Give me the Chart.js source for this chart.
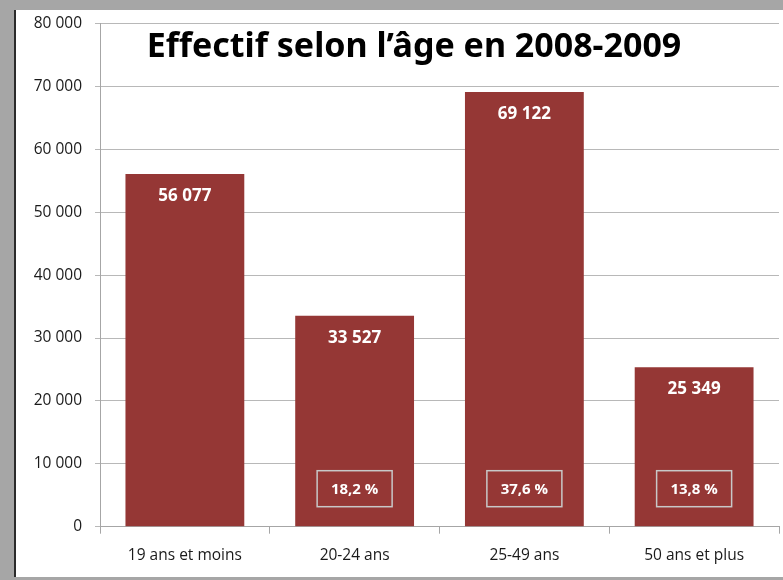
<!DOCTYPE html>
<html>
<head>
<meta charset="utf-8">
<script src="https://cdn.jsdelivr.net/npm/chart.js@4"></script>
<style>
  html, body { margin: 0; padding: 0; }
  body { width: 783px; height: 580px; background: #a6a6a6; position: relative; overflow: hidden; }
  #frame { position: absolute; left: 14px; top: 10px; width: 767px; height: 567px; background: #ffffff; border-left: 2px solid #2b2b2b; }
  #c { position: absolute; left: 0; top: 0; }
</style>
</head>
<body>
<div id="frame"></div>
<canvas id="c" width="783" height="580"></canvas>
<script>
const categories = ["19 ans et moins", "20-24 ans", "25-49 ans", "50 ans et plus"];
const effectifs = [56077, 33527, 69122, 25349];
const percentLabels = ["", "18,2 %", "37,6 %", "13,8 %"];
const yTicks = [0, 10000, 20000, 30000, 40000, 50000, 60000, 70000, 80000];
const chartTitle = "Effectif selon l\u2019âge en 2008-2009";

function fmt(v) {
  return String(v).replace(/\B(?=(\d{3})+(?!\d))/g, " ");
}

const labelPlugin = {
  id: "labels",
  afterDatasetsDraw(chart) {
    const ctx = chart.ctx;
    const meta = chart.getDatasetMeta(0);
    const yScale = chart.scales.y;
    const zeroY = yScale.getPixelForValue(0);
    ctx.save();
    ctx.textAlign = "center";
    ctx.textBaseline = "middle";
    meta.data.forEach((el, i) => {
      ctx.fillStyle = "#ffffff";
      ctx.font = "bold 17px 'Open Sans'";
      ctx.fillText(fmt(effectifs[i]), el.x, el.y + 22);
      if (percentLabels[i]) {
        const w = 75, h = 36;
        const cy = zeroY - 38;
        ctx.strokeStyle = "#c8c8c8";
        ctx.lineWidth = 1.5;
        ctx.strokeRect(el.x - w / 2, cy - h / 2, w, h);
        ctx.font = "bold 15px 'Open Sans'";
        ctx.fillStyle = "#ffffff";
        ctx.fillText(percentLabels[i], el.x, cy + 1);
      }
    });
    ctx.restore();
  },
  afterDraw(chart) {
    const ctx = chart.ctx;
    ctx.save();
    ctx.fillStyle = "#000000";
    ctx.font = "bold 34px 'Noto Sans'";
    ctx.textAlign = "center";
    ctx.textBaseline = "alphabetic";
    ctx.fillText(chartTitle, 414, 57);
    ctx.restore();
  }
};

new Chart(document.getElementById("c"), {
  type: "bar",
  data: {
    labels: categories,
    datasets: [{
      data: effectifs,
      backgroundColor: "#953735",
      borderWidth: 0,
      barPercentage: 0.7,
      categoryPercentage: 1.0
    }]
  },
  options: {
    responsive: false,
    animation: false,
    devicePixelRatio: 1,
    layout: { padding: { left: 16, right: 4, top: 23.5, bottom: 0 } },
    plugins: { legend: { display: false }, tooltip: { enabled: false }, title: { display: false } },
    scales: {
      x: {
        grid: { display: true, drawOnChartArea: false, color: "#a6a6a6", tickLength: 7, offset: true },
        border: { color: "#a6a6a6", width: 1 },
        ticks: { color: "#1a1a1a", font: { family: "'Open Sans'", size: 15.5 }, padding: 13, maxRotation: 0 },
        afterFit(scale) { scale.height = 53.3; }
      },
      y: {
        min: 0, max: 80000,
        afterBuildTicks(scale) { scale.ticks = yTicks.map(v => ({ value: v })); },
        grid: { color: "#b8b8b8", tickLength: 5 },
        border: { color: "#a6a6a6", width: 1 },
        ticks: {
          color: "#1a1a1a",
          font: { family: "'Open Sans'", size: 15.5 },
          padding: 13,
          callback: (v) => fmt(v)
        },
        afterFit(scale) { scale.width = 84; }
      }
    }
  },
  plugins: [labelPlugin]
});
</script>
</body>
</html>
